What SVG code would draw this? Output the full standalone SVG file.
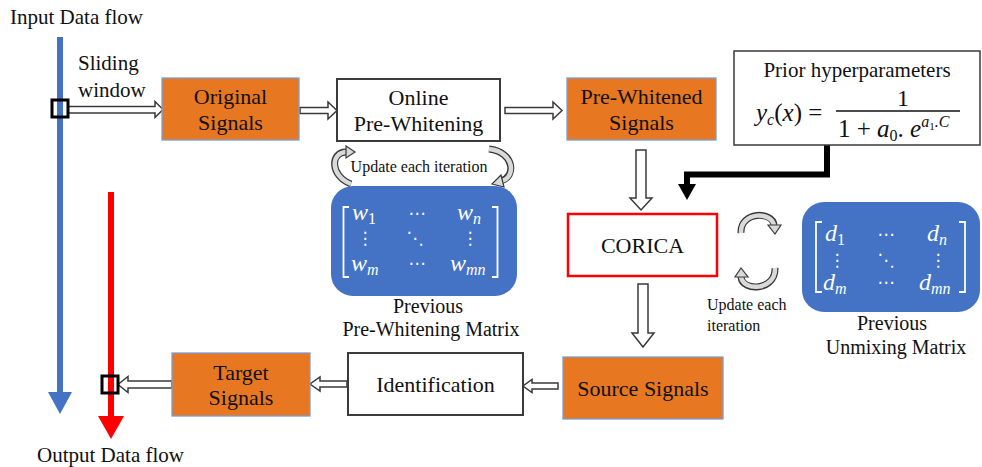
<svg xmlns="http://www.w3.org/2000/svg" width="982" height="467" viewBox="0 0 982 467">
<style>
  .t { font-family: "Liberation Serif", "Times New Roman", serif; fill: #111; }
  .box-o { fill: #E87722; stroke: #7A9FD6; stroke-width: 1.3; }
  .box-w { fill: #fff; stroke: #3a3a3a; stroke-width: 2; }
  .hollow { fill: #fff; stroke: #3a3a3a; stroke-width: 1.5; stroke-linejoin: miter; }
  .mat { fill: #4472C4; }
  .m { font-family: "Liberation Serif", "Times New Roman", serif; font-style: italic; fill: #fff; font-size: 24px; }
  .sub { font-size: 16px; }
  .num { font-style: normal; }
  .dots { font-family: "DejaVu Sans", sans-serif; fill: #fff; font-size: 17px; text-anchor: middle; }
  .br { fill: none; stroke: #fff; stroke-width: 1.8; }
  .curve-o { fill: none; stroke: #3a3a3a; stroke-width: 7; }
  .curve-i { fill: none; stroke: #d9d9d9; stroke-width: 4.5; }
  .curve-h { fill: #d9d9d9; stroke: #3a3a3a; stroke-width: 1.2; }
</style>

<!-- flows -->
<g id="input-flow">
  <text class="t" x="10" y="24" font-size="21">Input Data flow</text>
  <rect x="57" y="37" width="6" height="356" fill="#4472C4"/>
  <polygon points="48,392 72,392 60,414" fill="#4472C4"/>
</g>
<g id="output-flow">
  <rect x="108" y="192" width="6" height="225" fill="#FF0000"/>
  <polygon points="98,416 124,416 111,439" fill="#FF0000"/>
  <text class="t" x="37" y="462" font-size="21">Output Data flow</text>
</g>

<!-- connectors -->
<g id="connectors">
  <polygon class="hollow" points="68,106.5 155,106.5 155,101.5 163,109.5 155,117.5 155,113 68,113"/>
  <polygon class="hollow" points="300,107.5 328,107.5 328,102 337,110.5 328,119 328,113.5 300,113.5"/>
  <polygon class="hollow" points="505,107.5 553,107.5 553,102 562,110.5 553,119 553,113.5 505,113.5"/>
  <polygon class="hollow" points="636,150 646,150 646,198 652,198 641,210 630,198 636,198"/>
  <polygon class="hollow" points="638,284 648,284 648,333 654,333 643,347 632,333 638,333"/>
  <polygon class="hollow" points="558,383 532,383 532,379.5 523,386 532,392.5 532,389 558,389"/>
  <polygon class="hollow" points="347,381 320,381 320,377 310,384 320,391 320,387 347,387"/>
  <polygon class="hollow" points="172,381 128,381 128,376.5 118,384.5 128,392.5 128,388 172,388"/>
  <!-- black prior arrow -->
  <polyline points="827,145 827,174.5 687,174.5 687,185" fill="none" stroke="#000" stroke-width="6" stroke-linejoin="miter"/>
  <polygon points="678,184 696,184 687,200" fill="#000"/>
  <!-- update curves near pre-whitening -->
  <path class="curve-o" d="M 351 184 C 330 176, 330 152, 346 152"/>
  <path class="curve-i" d="M 351 184 C 330 176, 330 152, 347 152"/>
  <polygon class="curve-h" points="346,146 355,152 346,158"/>
  <path class="curve-o" d="M 489 149 C 515 152, 516 177, 501 181"/>
  <path class="curve-i" d="M 489 149 C 515 152, 516 177, 502 181"/>
  <polygon class="curve-h" points="501,175 492,184 504,187"/>
  <!-- update curves near CORICA -->
  <path class="curve-o" d="M 741 233 C 740 211, 773 211, 774 225"/>
  <path class="curve-i" d="M 741 233 C 740 211, 773 211, 774 226"/>
  <polygon class="curve-h" points="768,225 781,225 775,234"/>
  <path class="curve-o" d="M 775 268 C 776 291, 742 292, 741 277"/>
  <path class="curve-i" d="M 775 268 C 776 291, 742 292, 741 276"/>
  <polygon class="curve-h" points="735,277 748,277 741,268"/>
  <!-- sliding window squares -->
  <rect x="52" y="100" width="16" height="17" fill="none" stroke="#000" stroke-width="3"/>
  <rect x="102" y="376" width="16" height="17" fill="none" stroke="#000" stroke-width="3"/>
</g>

<g id="sliding-window-label">
  <text class="t" x="78" y="70" font-size="21">Sliding</text>
  <text class="t" x="78" y="97" font-size="21">window</text>
</g>

<g id="original-signals">
  <rect class="box-o" x="162" y="78" width="137" height="62"/>
  <text class="t" x="230.5" y="104" font-size="22" text-anchor="middle">Original</text>
  <text class="t" x="230.5" y="130" font-size="22" text-anchor="middle">Signals</text>
</g>

<g id="online-prewhitening">
  <rect class="box-w" x="337" y="79" width="163" height="62"/>
  <text class="t" x="418.5" y="105" font-size="22" text-anchor="middle">Online</text>
  <text class="t" x="418.5" y="131" font-size="22" text-anchor="middle">Pre-Whitening</text>
</g>

<g id="update-label-1">
  <text class="t" x="419" y="172" font-size="16" text-anchor="middle">Update each iteration</text>
</g>

<g id="prewhitened-signals">
  <rect class="box-o" x="567" y="78" width="149" height="62"/>
  <text class="t" x="641.5" y="104" font-size="22" text-anchor="middle">Pre-Whitened</text>
  <text class="t" x="641.5" y="130" font-size="22" text-anchor="middle">Signals</text>
</g>

<g id="prior-hyperparameters">
  <rect x="734" y="51" width="246" height="94" fill="#fff" stroke="#3a3a3a" stroke-width="1.5"/>
  <text class="t" x="857" y="77" font-size="21" text-anchor="middle">Prior hyperparameters</text>
  <text class="t" x="756" y="121" font-size="25"><tspan font-style="italic">y</tspan><tspan font-style="italic" font-size="16" dy="4">c</tspan><tspan dy="-4">(</tspan><tspan font-style="italic">x</tspan><tspan>) =</tspan></text>
  <text class="t" x="903" y="106" font-size="24" text-anchor="middle">1</text>
  <line x1="836" y1="111" x2="960" y2="111" stroke="#111" stroke-width="1.3"/>
  <text class="t" x="838" y="137" font-size="25">1 + <tspan font-style="italic">a</tspan><tspan font-size="16" dy="4">0</tspan><tspan dy="-4">. </tspan><tspan font-style="italic">e</tspan><tspan font-style="italic" font-size="16" dy="-10">a</tspan><tspan font-size="11" dy="3">1</tspan><tspan font-size="16" font-style="italic" dy="-3">.C</tspan></text>
</g>

<g id="prewhitening-matrix">
  <rect class="mat" x="331" y="186" width="186" height="110" rx="22"/>
  <path class="br" d="M 349 207 H 343.5 V 277 H 349"/>
  <path class="br" d="M 492 207 H 497.5 V 277 H 492"/>
  <text class="m" x="352" y="220">w<tspan class="sub num" dy="4">1</tspan></text>
  <text class="dots" x="417" y="219">⋯</text>
  <text class="m" x="457" y="220">w<tspan class="sub" dy="4">n</tspan></text>
  <text class="dots" x="365" y="244">⋮</text>
  <text class="dots" x="415" y="244">⋱</text>
  <text class="dots" x="470" y="244">⋮</text>
  <text class="m" x="351" y="271">w<tspan class="sub" dy="4">m</tspan></text>
  <text class="dots" x="417" y="269">⋯</text>
  <text class="m" x="450" y="271">w<tspan class="sub" dy="4">mn</tspan></text>
  <text class="t" x="428" y="313" font-size="20" text-anchor="middle">Previous</text>
  <text class="t" x="431" y="336" font-size="20" text-anchor="middle">Pre-Whitening Matrix</text>
</g>

<g id="corica">
  <rect x="568" y="214" width="149" height="62" fill="#fff" stroke="#FF0000" stroke-width="2.5"/>
  <text class="t" x="642.5" y="253" font-size="22" text-anchor="middle">CORICA</text>
</g>

<g id="update-label-2">
  <text class="t" x="707" y="310" font-size="16">Update each</text>
  <text class="t" x="707" y="331" font-size="16">iteration</text>
</g>

<g id="unmixing-matrix">
  <rect class="mat" x="802" y="202" width="178" height="110" rx="22"/>
  <path class="br" d="M 822 222 H 816 V 292 H 822"/>
  <path class="br" d="M 959 222 H 965 V 292 H 959"/>
  <text class="m" x="825" y="241">d<tspan class="sub num" dy="4">1</tspan></text>
  <text class="dots" x="886" y="240">⋯</text>
  <text class="m" x="927" y="241">d<tspan class="sub" dy="4">n</tspan></text>
  <text class="dots" x="837" y="266">⋮</text>
  <text class="dots" x="886" y="266">⋱</text>
  <text class="dots" x="938" y="266">⋮</text>
  <text class="m" x="823" y="290">d<tspan class="sub" dy="4">m</tspan></text>
  <text class="dots" x="886" y="288">⋯</text>
  <text class="m" x="919" y="290">d<tspan class="sub" dy="4">mn</tspan></text>
  <text class="t" x="892" y="330" font-size="20" text-anchor="middle">Previous</text>
  <text class="t" x="896" y="354" font-size="20" text-anchor="middle">Unmixing Matrix</text>
</g>

<g id="source-signals">
  <rect class="box-o" x="563" y="357" width="160" height="62"/>
  <text class="t" x="643" y="396" font-size="22" text-anchor="middle">Source Signals</text>
</g>

<g id="identification">
  <rect class="box-w" x="348" y="353" width="175" height="62"/>
  <text class="t" x="435.5" y="392" font-size="22" text-anchor="middle">Identification</text>
</g>

<g id="target-signals">
  <rect class="box-o" x="172" y="353" width="138" height="63"/>
  <text class="t" x="241" y="380" font-size="22" text-anchor="middle">Target</text>
  <text class="t" x="241" y="405" font-size="22" text-anchor="middle">Signals</text>
</g>
</svg>
